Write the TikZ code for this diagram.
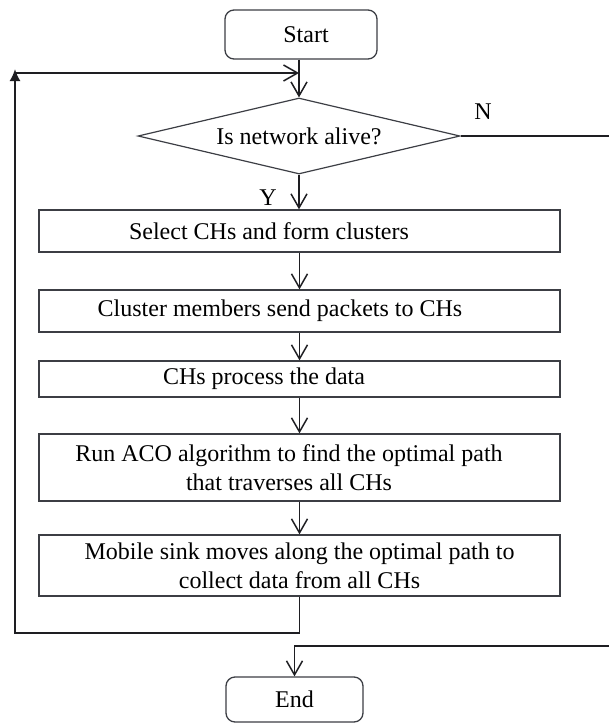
\documentclass[tikz,border=0pt]{standalone}
\usepackage{fontspec}
\setmainfont{Liberation Serif}
\usetikzlibrary{shapes.geometric,arrows.meta}
\definecolor{boxgray}{RGB}{60,62,68}
\definecolor{linegray}{RGB}{30,30,34}
\begin{document}
\begin{tikzpicture}[x=1pt,y=-1pt,
  font=\fontsize{24}{29}\selectfont,
  procbox/.style={draw=boxgray, line width=1.3pt, minimum width=521pt, align=center, inner sep=0pt},
  termbox/.style={draw=boxgray, line width=1.3pt, rounded corners=9pt, inner sep=0pt},
  decbox/.style={draw=boxgray, line width=1.2pt, diamond, aspect=4.2, minimum width=322pt, minimum height=76pt, inner sep=0pt},
  flow/.style={draw=linegray, line width=1.5pt, -{Straight Barb[length=14pt,width=16pt,line width=1.5pt]}},
  loopline/.style={draw=linegray, line width=1.8pt},
  lbl/.style={inner sep=0pt}
]
\useasboundingbox (0,0) rectangle (609,723);

\node[termbox, minimum width=152pt, minimum height=49pt] (start) at (301,34.5) {\hspace*{10pt}Start};
\node[decbox] (dia) at (299,136) {Is network alive?};
\node[procbox, minimum height=42pt] (sel) at (299.5,231) {\hspace*{-61pt}Select CHs and form clusters};
\node[procbox, minimum height=42pt] (clu) at (299.5,311) {\hspace*{-39pt}Cluster members send packets to CHs};
\node[procbox, minimum height=36pt] (proc) at (299.5,379) {\hspace*{-71pt}CHs process the data};
\node[procbox, minimum height=67pt] (aco) at (299.5,467.5) {\hspace*{-21pt}Run ACO algorithm to find the optimal path\\\hspace*{-21pt}that traverses all CHs};
\node[procbox, minimum height=61pt] (mob) at (299.5,565.5) {Mobile sink moves along the optimal path to\\collect data from all CHs};
\node[termbox, minimum width=137pt, minimum height=45pt] (end) at (294.5,699.5) {End};

\node[lbl] (ylab) at (268,198) {Y};
\node[lbl] (nlab) at (483,112) {N};

\coordinate (join) at (299,73);
\coordinate (loopTL) at (15,69);
\coordinate (loopH) at (15,73);
\coordinate (loopB) at (15,633);
\coordinate (nR) at (618,136);
\coordinate (nB) at (618,646);

\draw[flow] (dia.north |- start.south) -- (dia.north);
\draw[flow] (dia.south) -- (dia.south |- sel.north);
\draw[flow] (sel.south) -- (clu.north);
\draw[flow] (clu.south) -- (proc.north);
\draw[flow] (proc.south) -- (aco.north);
\draw[flow] (aco.south) -- (mob.north);

\draw[loopline, -{Latex[length=12pt,width=11pt]}] (mob.south) -- (mob.south |- loopB) -- (loopB) -- (loopTL);
\draw[loopline, -{Straight Barb[length=14pt,width=16pt,line width=1.5pt]}] (loopH) -- (join);

\draw[flow] (dia.east) -- (nR) -- (nB) -| (end.north);
\end{tikzpicture}
\end{document}
